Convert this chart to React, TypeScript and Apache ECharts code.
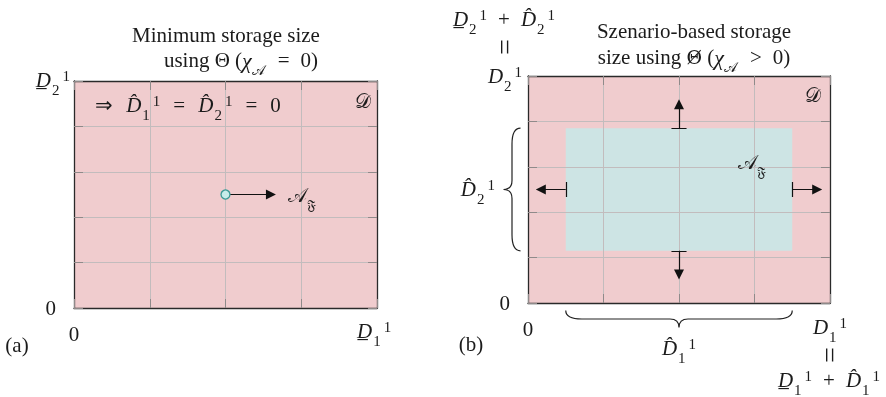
import React, { useEffect, useRef } from 'react';
import * as echarts from 'echarts';

// ---------------- data ----------------
const xTicks = [0, 1, 2, 3, 4];
const yTicks = [0, 1, 2, 3, 4, 5];

// panel (a): minimum storage size -> single point that grows
const minPointA: number[] = [2, 2.5];
const growArrowA: number[][] = [[2, 2.5], [2.6, 2.5]];

// panel (b): scenario-based storage region and growth arrows
const scenarioX: number[] = [0.5, 3.5];
const scenarioY: number[] = [1.15, 3.85];
const growArrowsB: number[][][] = [
  [[2, 3.85], [2, 4.38]],
  [[2, 1.15], [2, 0.63]],
  [[0.5, 2.5], [0.17, 2.5]],
  [[3.5, 2.5], [3.83, 2.5]],
];
const arrowCapsB: number[][][] = [
  [[1.9, 3.85], [2.1, 3.85]],
  [[1.9, 1.15], [2.1, 1.15]],
  [[0.5, 2.335], [0.5, 2.665]],
  [[3.5, 2.335], [3.5, 2.665]],
];

// in-plot annotation anchors (data units)
const labelDomainA: number[] = [3.92, 4.56];
const labelImpliesA: number[] = [0.28, 4.47];
const labelRegionA: number[] = [2.83, 2.48];
const labelDomainB: number[] = [3.88, 4.58];
const labelRegionB: number[] = [2.78, 3.1];

// ---------------- style ----------------
const FONT = 'Liberation Serif';
const INK = '#1b1b1b';
const PINK = '#f0ccce';
const BLUE = '#cde4e4';
const GRIDC = '#c2bcbd';
const FS = 21;

const RICH: any = {
  i: { fontFamily: FONT, fontStyle: 'italic', fontSize: FS, fill: INK, padding: [0, 1, 0, 0] },
  sub: { fontFamily: FONT, fontSize: 15, fill: INK, verticalAlign: 'bottom' },
  sup: { fontFamily: FONT, fontSize: 15, fill: INK, verticalAlign: 'top', padding: [5, 0, 0, 3] },
  chi: { fontFamily: FONT, fontStyle: 'italic', fontSize: 22, fill: INK },
  cal: { fontFamily: 'DejaVu Serif', fontSize: 20, fill: INK },
  calsub: { fontFamily: 'DejaVu Serif', fontSize: 14, fill: INK, verticalAlign: 'bottom', padding: [0, 2, 0, 0] },
  th: { fontFamily: 'DejaVu Serif', fontSize: 19, fill: INK },
  g: { fontFamily: FONT, fontSize: FS, width: 11 },
  G: { fontFamily: FONT, fontSize: FS, width: 13 },
};

const Dlow = (k: number) => `{i|D\u0332}{sub|${k}}{sup|1}`;
const Dhat = (k: number) => `{i|D\u0302}{sub|${k}}{sup|1}`;
const Dpl = (k: number) => `{i|D}{sub|${k}}{sup|1}`;
const AF = `{cal|\u{1D49C}}{calsub|\u{1D509}}`;
const DOM = `{cal|\u{1D49F}}`;
const op = (s: string, g = 'g') => `{${g}| }${s}{${g}| }`;

const txt = (x: number, y: number, text: string, align = 'center', rotation = 0, size = FS) => ({
  type: 'text',
  x,
  y,
  rotation,
  z: 20,
  silent: true,
  style: {
    text,
    align,
    verticalAlign: 'middle',
    fontFamily: FONT,
    fontSize: size,
    fill: INK,
    lineHeight: 34,
    rich: RICH,
  },
});

const gridA = { left: 74, top: 81, width: 303, height: 227 };
const gridB = { left: 528, top: 76, width: 302, height: 227 };

function xAxis(gridIndex: number, position: string, main: boolean) {
  return {
    type: 'value',
    gridIndex,
    position,
    min: xTicks[0],
    max: xTicks[xTicks.length - 1],
    interval: 1,
    z: 3,
    axisLine: { show: true, onZero: false, lineStyle: { color: '#2a2a2a', width: 1.3 } },
    axisTick: { show: true, inside: true, length: 9, lineStyle: { color: '#8f8a8a', width: 1 } },
    splitLine: { show: main, showMinLine: false, showMaxLine: false, lineStyle: { color: GRIDC, width: 1 } },
    axisLabel: {
      show: main,
      margin: 15,
      formatter: (v: number) => (v === 0 ? '0' : ''),
      fontFamily: FONT,
      fontSize: FS,
      color: INK,
    },
  };
}
function yAxis(gridIndex: number, position: string, main: boolean) {
  return {
    type: 'value',
    gridIndex,
    position,
    min: yTicks[0],
    max: yTicks[yTicks.length - 1],
    interval: 1,
    z: 3,
    axisLine: { show: true, onZero: false, lineStyle: { color: '#2a2a2a', width: 1.3 } },
    axisTick: { show: true, inside: true, length: 9, lineStyle: { color: '#8f8a8a', width: 1 } },
    splitLine: { show: main, showMinLine: false, showMaxLine: false, lineStyle: { color: GRIDC, width: 1 } },
    axisLabel: {
      show: main,
      margin: 18,
      formatter: (v: number) => (v === 0 ? '0' : ''),
      fontFamily: FONT,
      fontSize: FS,
      color: INK,
    },
  };
}

function braceRender(horizontal: boolean) {
  return (params: any, api: any) => {
    const a = api.value(0);
    const b = api.value(1);
    let p0: number[], p1: number[], n: number[];
    if (horizontal) {
      p0 = api.coord([a, 0]);
      p1 = api.coord([b, 0]);
      n = [0, 1];
    } else {
      p0 = api.coord([0, b]);
      p1 = api.coord([0, a]);
      n = [-1, 0];
    }
    const gap = 7.5;
    const h = 17;
    const r = 16;
    const r2 = 9;
    const L = Math.hypot(p1[0] - p0[0], p1[1] - p0[1]);
    const u = [(p1[0] - p0[0]) / L, (p1[1] - p0[1]) / L];
    const P = (s: number, t: number) => {
      const x = p0[0] + s * u[0] + (gap + t) * n[0];
      const y = p0[1] + s * u[1] + (gap + t) * n[1];
      return `${x.toFixed(2)},${y.toFixed(2)}`;
    };
    const m = L / 2;
    const d =
      `M${P(0, 0)} Q${P(0, h / 2)} ${P(r, h / 2)} L${P(m - r2, h / 2)} ` +
      `Q${P(m, h / 2)} ${P(m, h)} Q${P(m, h / 2)} ${P(m + r2, h / 2)} ` +
      `L${P(L - r, h / 2)} Q${P(L, h / 2)} ${P(L, 0)}`;
    return {
      type: 'path',
      shape: { pathData: d },
      style: { fill: 'none', stroke: '#222', lineWidth: 1.2 },
    };
  };
}

export default function App() {
  const ref = useRef<HTMLDivElement>(null);
  useEffect(() => {
    if (!ref.current) return;
    const chart = echarts.init(ref.current, null, { renderer: 'svg' });
    const option: any = {
      animation: false,
      grid: [
        { ...gridA, show: true, backgroundColor: PINK, borderWidth: 0 },
        { ...gridB, show: true, backgroundColor: PINK, borderWidth: 0 },
      ],
      xAxis: [xAxis(0, 'bottom', true), xAxis(0, 'top', false), xAxis(1, 'bottom', true), xAxis(1, 'top', false)],
      yAxis: [yAxis(0, 'left', true), yAxis(0, 'right', false), yAxis(1, 'left', true), yAxis(1, 'right', false)],
      series: [
        {
          type: 'custom',
          xAxisIndex: 2,
          yAxisIndex: 2,
          z: 1,
          silent: true,
          data: [[scenarioX[0], scenarioY[0], scenarioX[1], scenarioY[1]]],
          renderItem: (params: any, api: any) => {
            const p0 = api.coord([api.value(0), api.value(1)]);
            const p1 = api.coord([api.value(2), api.value(3)]);
            return {
              type: 'rect',
              shape: { x: p0[0], y: p1[1], width: p1[0] - p0[0], height: p0[1] - p1[1] },
              style: { fill: BLUE },
            };
          },
        },
        {
          type: 'lines',
          coordinateSystem: 'cartesian2d',
          xAxisIndex: 0,
          yAxisIndex: 0,
          z: 5,
          silent: true,
          symbol: ['none', 'triangle'],
          symbolSize: 10,
          lineStyle: { color: '#111', width: 1.2, opacity: 1 },
          data: [{ coords: growArrowA }],
        },
        {
          type: 'scatter',
          xAxisIndex: 0,
          yAxisIndex: 0,
          z: 6,
          silent: true,
          symbol: 'circle',
          symbolSize: 9,
          itemStyle: { color: '#c8ecea', borderColor: '#3b9a96', borderWidth: 1.3, opacity: 1 },
          data: [minPointA],
        },
        {
          type: 'lines',
          coordinateSystem: 'cartesian2d',
          xAxisIndex: 2,
          yAxisIndex: 2,
          z: 5,
          silent: true,
          symbol: ['none', 'triangle'],
          symbolSize: 10,
          lineStyle: { color: '#111', width: 1.2, opacity: 1 },
          data: growArrowsB.map((c) => ({ coords: c })),
        },
        {
          type: 'lines',
          coordinateSystem: 'cartesian2d',
          xAxisIndex: 2,
          yAxisIndex: 2,
          z: 5,
          silent: true,
          symbol: 'none',
          lineStyle: { color: '#111', width: 1.2, opacity: 1 },
          data: arrowCapsB.map((c) => ({ coords: c })),
        },
        {
          type: 'custom',
          xAxisIndex: 2,
          yAxisIndex: 2,
          z: 5,
          silent: true,
          clip: false,
          data: [[scenarioX[0], scenarioX[1]]],
          renderItem: braceRender(true),
        },
        {
          type: 'custom',
          xAxisIndex: 2,
          yAxisIndex: 2,
          z: 5,
          silent: true,
          clip: false,
          data: [[scenarioY[0], scenarioY[1]]],
          renderItem: braceRender(false),
        },
      ],
    };
    chart.setOption(option);

    const pa = (p: number[]) => chart.convertToPixel({ xAxisIndex: 0, yAxisIndex: 0 }, p) as number[];
    const pb = (p: number[]) => chart.convertToPixel({ xAxisIndex: 2, yAxisIndex: 2 }, p) as number[];
    const dA = pa(labelDomainA);
    const iA = pa(labelImpliesA);
    const rA = pa(labelRegionA);
    const dB = pb(labelDomainB);
    const rB = pb(labelRegionB);

    chart.setOption({
      graphic: [
        // panel (a)
        txt(226, 35, 'Minimum storage size'),
        txt(241, 60, `using \u0398 ({chi|\u03C7}{calsub|\u{1D49C}}${op('=')}0)`),
        txt(70, 80, Dlow(2), 'right'),
        txt(357, 331, Dlow(1), 'left'),
        txt(17, 345, '(a)'),
        txt(dA[0], dA[1], DOM, 'right'),
        txt(iA[0], iA[1], `\u21D2{G| }${Dhat(1)}${op('=', 'G')}${Dhat(2)}${op('=', 'G')}0`, 'left'),
        txt(rA[0], rA[1], AF, 'left'),
        // panel (b)
        txt(694, 31, 'Szenario-based storage'),
        txt(694, 57, `size using {th|\u0398\u0338} ({chi|\u03C7}{calsub|\u{1D49C}}${op('>')}0)`),
        txt(504, 19, `${Dlow(2)}${op('+')}${Dhat(2)}`),
        txt(504, 47, '=', 'center', Math.PI / 2, 28),
        txt(505, 76, Dpl(2)),
        txt(495, 189, Dhat(2), 'right'),
        txt(679, 348, Dhat(1)),
        txt(471, 344, '(b)'),
        txt(830, 327, Dpl(1)),
        txt(829, 355, '=', 'center', Math.PI / 2, 28),
        txt(829, 380, `${Dlow(1)}${op('+')}${Dhat(1)}`),
        txt(dB[0], dB[1], DOM, 'right'),
        txt(rB[0], rB[1], AF, 'left'),
      ],
    });
    return () => chart.dispose();
  }, []);
  return <div ref={ref} style={{ position: 'fixed', left: 0, top: 0, width: 886, height: 397 }} />;
}
